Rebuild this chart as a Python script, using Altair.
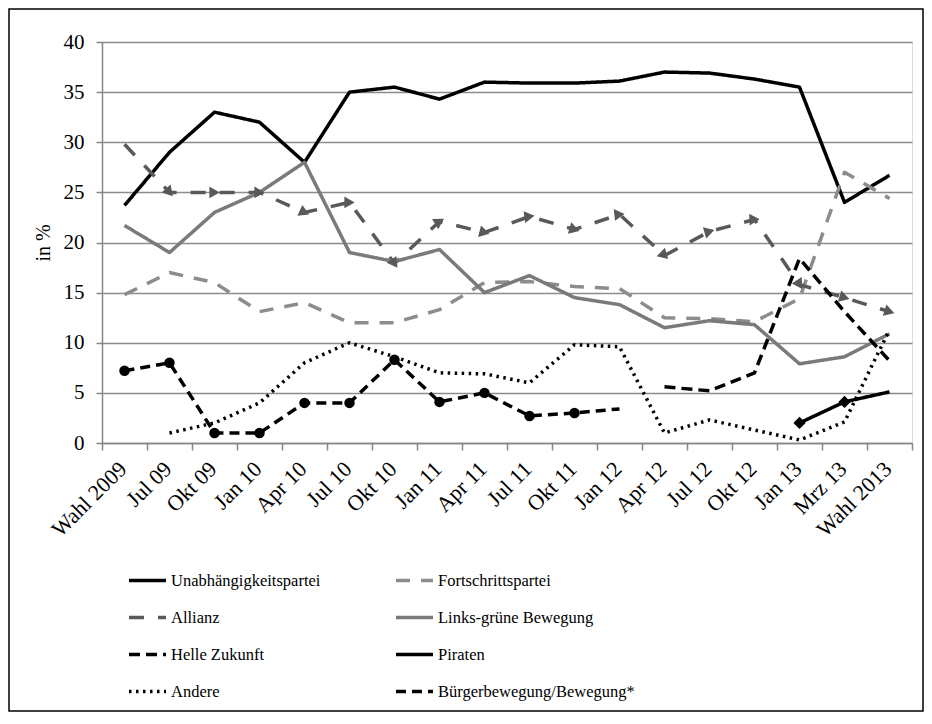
import math
import json
import altair as alt
import pandas as pd

categories = ["Wahl 2009", "Jul 09", "Okt 09", "Jan 10", "Apr 10", "Jul 10", "Okt 10",
              "Jan 11", "Apr 11", "Jul 11", "Okt 11", "Jan 12", "Apr 12", "Jul 12",
              "Okt 12", "Jan 13", "Mrz 13", "Wahl 2013"]

parties = ["Unabhängigkeitspartei", "Fortschrittspartei", "Allianz", "Links-grüne Bewegung",
           "Helle Zukunft", "Piraten", "Andere", "Bürgerbewegung/Bewegung*"]

unab = [23.7, 29.0, 33.0, 32.0, 28.0, 35.0, 35.5, 34.3, 36.0, 35.9, 35.9, 36.1, 37.0, 36.9, 36.3, 35.5, 24.0, 26.7]
fort = [14.8, 17.0, 16.0, 13.1, 14.0, 12.0, 12.0, 13.3, 16.0, 16.1, 15.6, 15.4, 12.5, 12.4, 12.1, 14.4, 27.0, 24.4]
alli = [29.8, 25.0, 25.0, 25.0, 23.0, 24.0, 17.9, 22.1, 21.0, 22.6, 21.3, 22.8, 18.7, 21.1, 22.3, 15.8, 14.5, 13.1]
links = [21.7, 19.0, 23.0, 25.0, 28.0, 19.0, 18.1, 19.3, 15.0, 16.7, 14.5, 13.8, 11.5, 12.2, 11.8, 7.9, 8.6, 10.9]
helle = [None] * 12 + [5.6, 5.2, 7.0, 18.4, 13.1, 8.2]
pira = [None] * 15 + [2.0, 4.1, 5.1]
andere = [None, 1.0, 2.0, 4.0, 8.0, 10.0, 8.6, 7.0, 6.9, 6.0, 9.8, 9.6, 1.0, 2.3, 1.3, 0.3, 2.1, 11.3]
buerger = [7.2, 8.0, 1.0, 1.0, 4.0, 4.0, 8.3, 4.1, 5.0, 2.7, 3.0, 3.4] + [None] * 6

series = [unab, fort, alli, links, helle, pira, andere, buerger]

colors = ["#000000", "#8c8c8c", "#595959", "#7a7a7a", "#000000", "#000000", "#000000", "#000000"]
dashes = [[1, 0], [14, 11], [15, 14], [1, 0], [11, 6], [1, 0], [2.5, 4.5], [10, 6]]
widths = [3.5, 3.5, 3.5, 3.5, 3.5, 3, 3.5, 3.5]

# legend is filled column by column: left column first, then right column
ncol = 2
legend_order = [parties[r * ncol + c] for c in range(ncol) for r in range(len(parties) // ncol)]
style = {p: (c, d, w) for p, c, d, w in zip(parties, colors, dashes, widths)}
lg_colors = [style[p][0] for p in legend_order]
lg_dashes = [style[p][1] for p in legend_order]
lg_widths = [style[p][2] for p in legend_order]

W, H = 810, 401
PL, PT, PR, PB = 94, 34, 12, 269
FONT = "Liberation Serif"
YMAX = 40
N = len(categories)
step = W / N

rows = []
for p, vals in zip(parties, series):
    for i, v in enumerate(vals):
        if v is not None:
            rows.append({"party": p, "pos": i + 0.5, "value": v, "idx": i})
df = pd.DataFrame(rows)

# arrowheads for Allianz at segment ends
arr = []
for i in range(1, N):
    a, b = alli[i - 1], alli[i]
    dy = -(b - a) * H / YMAX
    ang = math.degrees(math.atan2(dy, step)) % 360
    arr.append({"pos": i + 0.5, "value": b, "angle": ang})
arr_df = pd.DataFrame(arr)

pir_df = pd.DataFrame([{"pos": i + 0.5, "value": v} for i, v in enumerate(pira)
                       if v is not None and i < N - 1])
bv = [(i, v) for i, v in enumerate(buerger) if v is not None]
bue_df = pd.DataFrame([{"pos": i + 0.5, "value": v} for i, v in bv[:-1]])

xscale = alt.Scale(domain=[0, N], nice=False, zero=False)
yscale = alt.Scale(domain=[0, YMAX], nice=False)

label_expr = "datum.value < %d ? %s[floor(datum.value)] : ''" % (N, json.dumps(categories, ensure_ascii=False))

xaxis = alt.Axis(values=list(range(N + 1)), labelExpr=label_expr, labelAngle=315,
                 labelAlign="right", labelBaseline="middle", labelOffset=step / 2 - 2,
                 labelPadding=15, tickSize=7, tickColor="#868686", domainColor="#868686",
                 domainWidth=1.5, tickWidth=1.5, grid=False, title=None, labelFlush=False,
                 labelOverlap=False, labelFontSize=22, labelFont=FONT, labelColor="black",
                 labelBound=False)
yaxis = alt.Axis(values=list(range(0, YMAX + 1, 5)), grid=True, gridColor="#8c8c8c",
                 gridWidth=1.3, tickSize=6, tickColor="#868686", tickWidth=1.5,
                 domainColor="#868686", domainWidth=1.5, labelPadding=12,
                 labelFontSize=21, labelFont=FONT, labelColor="black",
                 title="in %", titleFont=FONT, titleFontSize=20, titleFontWeight="normal",
                 titleColor="black", titlePadding=10)

legend = alt.Legend(title=None, orient="none", legendX=25, legendY=518, columns=2,
                    columnPadding=68, rowPadding=8, labelFont=FONT, labelFontSize=16.5,
                    labelColor="black", symbolType="stroke", symbolSize=1369,
                    labelOffset=3, labelLimit=400, direction="vertical")

base = alt.Chart(df)
lines = base.mark_line(strokeCap="butt", strokeJoin="round").encode(
    x=alt.X("pos:Q", scale=xscale, axis=xaxis),
    y=alt.Y("value:Q", scale=yscale, axis=yaxis),
    color=alt.Color("party:N", scale=alt.Scale(domain=legend_order, range=lg_colors),
                    legend=legend, sort=legend_order),
    strokeDash=alt.StrokeDash("party:N", scale=alt.Scale(domain=legend_order, range=lg_dashes),
                              legend=legend, sort=legend_order),
    strokeWidth=alt.StrokeWidth("party:N", scale=alt.Scale(domain=legend_order, range=lg_widths),
                                legend=legend, sort=legend_order),
    detail="party:N",
    order="pos:Q",
)

arrows = alt.Chart(arr_df).mark_point(shape="triangle-right", filled=True, opacity=1,
                                      color="#595959", size=140).encode(
    x=alt.X("pos:Q", scale=xscale), y=alt.Y("value:Q", scale=yscale), angle="angle:Q")

diamonds = alt.Chart(pir_df).mark_point(shape="diamond", filled=True, opacity=1,
                                        color="black", size=150).encode(
    x=alt.X("pos:Q", scale=xscale), y=alt.Y("value:Q", scale=yscale))

circles = alt.Chart(bue_df).mark_point(shape="circle", filled=True, opacity=1,
                                       color="black", size=110).encode(
    x=alt.X("pos:Q", scale=xscale), y=alt.Y("value:Q", scale=yscale))

frame = alt.Chart(pd.DataFrame({"a": [0]})).mark_rect(fill="transparent", stroke="black",
                                                       strokeWidth=1.5).encode(
    x=alt.value(-PL + 1), x2=alt.value(W + PR - 1),
    y=alt.value(-PT + 1), y2=alt.value(H + PB - 1))

chart = alt.layer(lines, arrows, diamonds, circles, frame).properties(
    width=W, height=H, padding={"left": PL, "top": PT, "right": PR, "bottom": PB},
    autosize=alt.AutoSizeParams(type="none"),
).configure_view(stroke=None).configure(font=FONT)

chart.save("out.html", embed_options={"renderer": "svg", "actions": False})
